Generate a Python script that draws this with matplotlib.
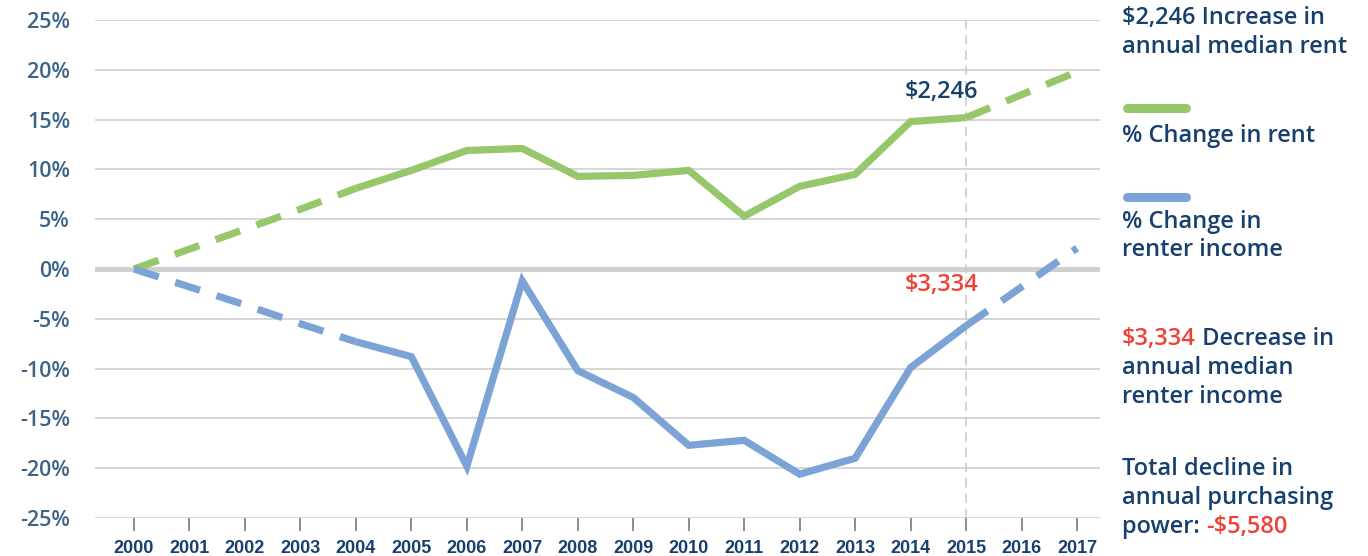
import matplotlib
matplotlib.use("Agg")
import matplotlib.pyplot as plt

# ---- data ----
years = list(range(2000, 2018))
rent_change = [0, 2.0, 4.0, 6.0, 8.1, 9.9, 11.9, 12.1, 9.3, 9.4, 9.9, 5.3, 8.3, 9.5, 14.8, 15.2, 17.5, 19.8]
income_change = [0, -1.8, -3.6, -5.5, -7.3, -8.8, -19.8, -1.2, -10.2, -12.9, -17.7, -17.2, -20.6, -19.0, -9.9, -5.7, -1.8, 2.1]
y_ticks = [25, 20, 15, 10, 5, 0, -5, -10, -15, -20, -25]
solid_start, solid_end = 2004, 2015
marker_year = 2015
rent_label = "$2,246"
income_label = "$3,334"

GREEN = "#96C76A"
BLUE = "#7BA3D6"
RED = "#EF4136"
NAVY = "#17406D"
TICKBLUE = "#3B6488"
GRID = "#D3D3D3"
FONT = ["Open Sans", "DejaVu Sans"]

plt.rcParams["font.family"] = FONT

W, H = 1368, 556
fig = plt.figure(figsize=(W / 100, H / 100), dpi=100)
ax = fig.add_axes([95 / W, (H - 518) / H, (1100 - 95) / W, (518 - 20) / H])

ax.set_ylim(-25, 25)
ax.set_xlim(2000 - 39 / 55.47, 2017 + 23 / 55.47)

for t in y_ticks:
    if t == 0:
        ax.axhline(t, color="#CFD0D2", lw=3.6, zorder=1)
    else:
        ax.axhline(t, color=GRID, lw=1.3, zorder=1)

ax.axvline(marker_year, ymin=0, ymax=1, color="#C8C8C8", lw=1.1,
           linestyle=(0, (6, 4)), zorder=1)

i0 = years.index(solid_start)
i1 = years.index(solid_end)
lw = 5.2
dash = (0, (3.6, 2.4))
for vals, col in ((rent_change, GREEN), (income_change, BLUE)):
    ax.plot(years[:i0 + 1], vals[:i0 + 1], color=col, lw=lw, linestyle=dash,
            dash_capstyle="butt", zorder=3)
    ax.plot(years[i0:i1 + 1], vals[i0:i1 + 1], color=col, lw=lw,
            solid_joinstyle="miter", solid_capstyle="butt", zorder=3)
    ax.plot(years[i1:], vals[i1:], color=col, lw=lw, linestyle=dash,
            dash_capstyle="butt", zorder=3)

ax.text(2014.55, 17.8, rent_label, color=NAVY, fontsize=17, fontweight="semibold",
        ha="center", va="center", zorder=4)
ax.text(2014.55, -1.6, income_label, color=RED, fontsize=17, fontweight="semibold",
        ha="center", va="center", zorder=4)

for s in ax.spines.values():
    s.set_visible(False)

ax.set_yticks(y_ticks)
ax.set_yticklabels([f"{t}%" for t in y_ticks])
ax.tick_params(axis="y", length=0, pad=18, labelsize=15.5, labelcolor=TICKBLUE)
for lab in ax.get_yticklabels():
    lab.set_fontweight("semibold")

ax.set_xticks(years)
ax.set_xticklabels([str(y) for y in years])
ax.tick_params(axis="x", direction="out", length=9, width=1.4, color="#8C8C8C",
               pad=7, labelsize=13, labelcolor=NAVY)
for lab in ax.get_xticklabels():
    lab.set_fontfamily(["Liberation Sans", "DejaVu Sans"])
    lab.set_fontweight("bold")

# ---- right-hand panel ----
fig.canvas.draw()
renderer = fig.canvas.get_renderer()


def rich_line(x_px, y_px, parts, size=17):
    x = x_px
    for txt, col in parts:
        t = fig.text(x / W, 1 - y_px / H, txt, color=col, fontsize=size,
                     fontweight="semibold", ha="left", va="center")
        bb = t.get_window_extent(renderer=renderer)
        x = bb.x1


XR = 1122
rich_line(XR, 18, [("$2,246 Increase in", NAVY)])
rich_line(XR, 47, [("annual median rent", NAVY)])
rich_line(XR, 136, [("% Change in rent", NAVY)])
rich_line(XR, 222, [("% Change in", NAVY)])
rich_line(XR, 250, [("renter income", NAVY)])
rich_line(XR, 339, [("$3,334", RED), (" Decrease in", NAVY)])
rich_line(XR, 368, [("annual median", NAVY)])
rich_line(XR, 397, [("renter income", NAVY)])
rich_line(XR, 469, [("Total decline in", NAVY)])
rich_line(XR, 498, [("annual purchasing", NAVY)])
rich_line(XR, 527, [("power: ", NAVY), ("-$5,580", RED)])

for ypx, col in ((108, GREEN), (197, BLUE)):
    fig.add_artist(plt.Line2D([1127 / W, 1186 / W], [1 - ypx / H, 1 - ypx / H],
                              color=col, lw=6.5, solid_capstyle="round",
                              transform=fig.transFigure))

fig.savefig("out.png", dpi=100)
